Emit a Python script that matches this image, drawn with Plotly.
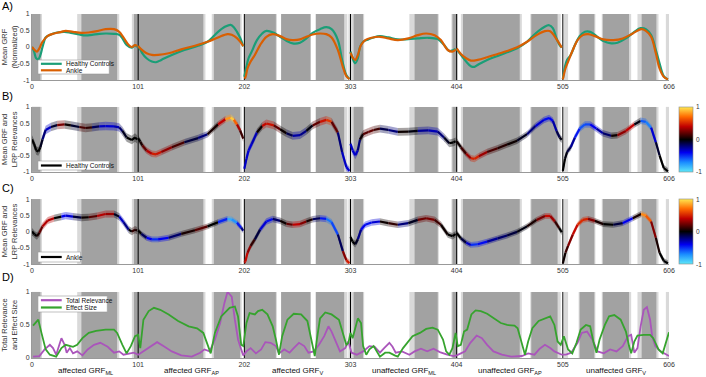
import plotly.graph_objects as go
from plotly.colors import sample_colorscale

# ---------------- data ----------------
tick_vals = [0, 101, 202, 303, 404, 505, 606]
segment_lines = [101, 202, 303, 404, 505]
segment_centers = [50.5, 151.5, 252.5, 353.5, 454.5, 555.5]
segment_names = ["affected GRF<sub>ML</sub>", "affected GRF<sub>AP</sub>", "affected GRF<sub>V</sub>",
                 "unaffected GRF<sub>ML</sub>", "unaffected GRF<sub>AP</sub>", "unaffected GRF<sub>V</sub>"]

# significance shading (light = wider interval, dark = inner interval)
light_regions = [(0, 9.5), (43, 83), (95, 165), (171, 199.5), (202, 233), (237, 265), (270, 300),
                 (301, 316), (359, 387), (399, 405), (408, 466), (474, 503), (506, 510), (520, 536),
                 (542, 570), (576, 596), (603, 606)]
dark_regions = [(0, 8), (47, 81), (97, 163), (173, 198), (202, 232), (237, 265), (270, 297),
                (306, 315), (364, 386), (400, 404), (410, 464), (475, 500), (521, 535), (543, 568),
                (580, 594)]

# Healthy controls mean GRF, per segment
hc_x = [
    [0, 2, 4, 6, 8, 10, 13, 18, 24, 31, 37, 45, 51, 57, 64, 70, 78, 83, 86, 90, 95, 98, 100],
    [101, 103, 105, 109, 114, 118, 123, 133, 145, 158, 167, 177, 184, 189, 192, 195, 198, 201],
    [202, 204, 206, 209, 214, 219, 223, 230, 236, 242, 248, 255, 261, 267, 274, 280, 285, 291, 295, 299, 302],
    [303, 305, 307.5, 310, 312, 315, 320, 325, 331, 339, 348, 358, 367, 377, 386, 392, 397, 401, 403],
    [404, 408, 413, 417.5, 421, 425, 433, 443, 452, 461.5, 471, 479, 487, 492, 495.5, 499, 502, 504],
    [505, 507, 509, 512.5, 516.5, 521, 526, 531, 537, 543, 551, 557, 565, 573, 579, 584, 589, 593.5, 597, 601, 605],
]
hc_y = [
    [0, -0.14, -0.34, -0.37, -0.24, 0, 0.29, 0.38, 0.44, 0.46, 0.43, 0.38, 0.35, 0.37, 0.4, 0.41, 0.4, 0.37, 0.26, 0.06, -0.02, 0.06, 0.0],
    [0.03, -0.07, -0.19, -0.34, -0.44, -0.46, -0.39, -0.24, -0.09, 0.04, 0.16, 0.46, 0.62, 0.67, 0.6, 0.46, 0.28, 0.02],
    [-0.9, -0.6, -0.34, -0.14, 0.21, 0.41, 0.49, 0.43, 0.31, 0.19, 0.11, 0.13, 0.26, 0.43, 0.54, 0.6, 0.54, 0.21, -0.39, -0.85, -0.97],
    [-0.14, -0.34, -0.49, -0.34, 0, 0.16, 0.23, 0.29, 0.33, 0.29, 0.23, 0.24, 0.26, 0.28, 0.24, 0.06, -0.12, -0.09, -0.06],
    [-0.06, -0.24, -0.44, -0.58, -0.6, -0.52, -0.39, -0.27, -0.16, -0.04, 0.16, 0.41, 0.6, 0.66, 0.57, 0.26, 0.06, -0.01],
    [-0.97, -0.6, -0.39, -0.24, 0.06, 0.33, 0.46, 0.46, 0.33, 0.19, 0.11, 0.13, 0.26, 0.46, 0.57, 0.54, 0.36, -0.09, -0.49, -0.88, -0.98],
]
hc_rel = [
    [0, 0, 0, 0, 0, -0.1, -0.3, -0.35, 0.2, 0.3, -0.25, 0.1, 0.2, 0.0, -0.3, -0.35, -0.35, -0.25, -0.1, 0, 0, 0, 0],
    [0, 0, 0.1, 0.3, 0.45, 0.5, 0.4, 0.2, 0.1, -0.3, -0.1, 0.2, 0.6, 1.0, 0.85, 0.5, 0.2, 0.05],
    [-0.3, -0.35, -0.35, -0.35, -0.25, 0.3, 0.55, 0.35, 0.05, 0, -0.25, -0.3, -0.15, 0.1, 0.3, 0.6, 0.5, -0.1, -0.3, -0.35, -0.35],
    [-0.3, -0.35, -0.35, -0.3, -0.1, 0.15, 0.2, 0.2, 0.05, -0.3, -0.1, 0.15, -0.2, -0.3, -0.3, -0.1, 0, 0, 0],
    [0, 0.05, 0.2, 0.45, 0.55, 0.45, 0.2, 0.1, 0.05, 0, -0.1, -0.3, -0.4, -0.45, -0.35, -0.2, -0.05, 0],
    [0, 0, -0.05, -0.15, -0.35, -0.55, -0.6, -0.5, -0.3, -0.25, -0.1, 0.15, 0.45, 0.35, -0.4, -0.8, -0.55, -0.15, 0, 0, 0],
]
hc_sd = [0.13, 0.1, 0.12, 0.12, 0.1, 0.1]

# Ankle group mean GRF, per segment
ak_x = [
    [0, 2.5, 4.7, 7, 10, 15, 21, 28, 32, 39, 47, 54, 62, 70, 78, 83, 87, 92, 95, 98, 100],
    [101, 104, 109, 114, 120, 130, 142, 155, 167, 177, 186, 190, 195, 199, 201],
    [202, 203, 205, 208, 212, 217, 223, 229, 236, 242, 248, 255, 261, 267, 274, 280, 285, 291, 295.7, 299, 302],
    [303, 305, 307.5, 310, 313, 317, 323, 331, 339, 348, 358, 367, 375, 383, 389, 395.5, 400, 403],
    [404, 408, 413, 417.5, 424, 433, 443, 452, 461.5, 471, 480, 488, 493, 497.5, 501.5, 504],
    [505, 507.5, 510, 514.5, 519, 524, 529, 535.5, 543.5, 553, 562, 571.5, 579.5, 584, 589, 593.5, 597, 601, 605],
]
ak_y = [
    [0, -0.09, -0.14, -0.04, 0.16, 0.34, 0.41, 0.46, 0.49, 0.46, 0.43, 0.44, 0.48, 0.54, 0.54, 0.46, 0.29, 0.06, 0, 0.06, 0.03],
    [0.03, -0.07, -0.19, -0.24, -0.24, -0.19, -0.07, 0.04, 0.16, 0.29, 0.39, 0.37, 0.27, 0.12, 0.03],
    [-0.95, -0.92, -0.65, -0.44, -0.24, 0.06, 0.31, 0.39, 0.33, 0.24, 0.21, 0.23, 0.31, 0.38, 0.41, 0.39, 0.29, -0.09, -0.6, -0.88, -0.97],
    [-0.17, -0.31, -0.39, -0.24, 0.06, 0.21, 0.28, 0.31, 0.26, 0.21, 0.26, 0.36, 0.41, 0.36, 0.21, -0.09, -0.14, -0.08],
    [-0.04, -0.21, -0.34, -0.41, -0.39, -0.31, -0.21, -0.12, -0.01, 0.16, 0.36, 0.48, 0.48, 0.31, 0.11, -0.02],
    [-0.98, -0.65, -0.44, -0.09, 0.21, 0.36, 0.39, 0.33, 0.23, 0.21, 0.26, 0.41, 0.54, 0.49, 0.31, -0.19, -0.65, -0.9, -0.98],
]
ak_rel = [
    [0, 0, 0, 0.1, 0.3, 0.45, 0.3, -0.3, -0.5, -0.2, 0, 0.05, 0.3, 0.45, 0.2, -0.3, -0.35, -0.1, 0.1, 0.1, 0],
    [0, 0, -0.3, -0.5, -0.5, -0.3, -0.05, 0.15, 0.2, -0.2, -0.75, -0.85, -0.6, -0.3, -0.1],
    [0.4, 0.45, 0.4, 0.2, 0, -0.2, -0.5, -0.35, 0, 0.05, 0.35, 0.45, 0.1, 0, -0.3, -0.6, -0.7, -0.4, 0.1, 0.45, 0.5],
    [0, 0, 0, -0.1, -0.35, -0.45, -0.4, -0.3, 0.35, -0.15, -0.25, 0.15, 0.3, 0.2, 0.05, 0, 0, 0],
    [0, 0, -0.2, -0.45, -0.55, -0.3, -0.2, -0.15, -0.05, 0, 0.1, 0.4, 0.45, 0.2, 0, 0],
    [0, 0.05, 0.2, 0.35, 0.5, 0.55, 0.45, 0.1, 0, 0, -0.2, -0.6, 0.7, 0.85, 0.45, 0.1, 0, 0, 0],
]
ak_sd = [0.11, 0.09, 0.1, 0.1, 0.09, 0.09]

# Panel D: total relevance and effect size
rel_x = [1, 7, 12, 17, 20, 23, 26, 28, 31, 33, 36, 39, 43, 48, 53, 59, 65, 72, 78, 83, 87, 92, 97, 101,
         105, 111, 119, 125, 133, 142, 152, 160, 164, 169, 174, 179, 183, 186, 190, 193, 196, 199, 201,
         204, 208, 213, 218, 222, 227, 232, 235, 240, 245, 249, 254, 259, 263, 268, 273, 278, 282, 285, 289, 293, 298, 301,
         304, 309, 315, 321, 326, 331, 335, 340, 343, 346, 352, 359, 364, 370, 376, 382, 388, 395, 401, 404,
         408, 412, 417, 423, 428, 433, 439, 447, 456, 466, 472, 478, 483, 488, 493, 497, 504,
         508, 513, 519, 523, 528, 533, 538, 544, 550, 556, 562, 567, 570, 573, 576, 579, 582, 585, 588, 590, 593, 598, 603, 606]
rel_y = [0.02, 0.03, 0.13, 0.2, 0.15, 0.05, 0.2, 0.3, 0.2, 0.08, 0.15, 0.07, 0.1, 0.04, 0.13, 0.2, 0.23, 0.17, 0.08, 0.1, 0.05, 0.07, 0.08, 0.05,
         0.09, 0.15, 0.24, 0.18, 0.1, 0.04, 0.02, 0.08, 0.13, 0.1, 0.28, 0.53, 0.83, 1.0, 0.93, 0.58, 0.28, 0.13, 0.04,
         0.1, 0.15, 0.07, 0.13, 0.24, 0.23, 0.18, 0.07, 0.13, 0.08, 0.15, 0.23, 0.18, 0.08, 0.1, 0.2, 0.33, 0.48, 0.4, 0.25, 0.1, 0.15, 0.25,
         0.08, 0.05, 0.1, 0.18, 0.17, 0.08, 0.15, 0.23, 0.17, 0.08, 0.1, 0.05, 0.1, 0.14, 0.1, 0.14, 0.09, 0.05, 0.03, 0.04,
         0.07, 0.1, 0.23, 0.34, 0.3, 0.2, 0.1, 0.05, 0.02, 0.03, 0.07, 0.05, 0.14, 0.2, 0.15, 0.1, 0.05,
         0.05, 0.08, 0.23, 0.38, 0.4, 0.28, 0.1, 0.07, 0.13, 0.1, 0.18, 0.33, 0.35, 0.08, 0.15, 0.48, 0.73, 0.77, 0.58, 0.33, 0.18, 0.1, 0.05, 0.03]

eff_x = [1, 6, 9, 13, 17, 23, 28, 32, 39, 43, 48, 54, 61, 70, 78, 81, 86, 90, 94, 98, 101,
         103, 106, 111, 116, 122, 130, 139, 149, 157, 163, 168, 170, 174, 180, 188, 193, 196, 199, 201,
         204, 207, 212, 215, 219, 224, 229, 232, 235, 238, 243, 249, 256, 262, 267, 269, 271, 274, 279, 285, 292, 296, 299,
         301, 303, 305, 307, 310, 313, 315, 318, 321, 325, 328, 331, 336, 340, 345, 348, 353, 358, 362, 369, 375, 381, 386, 391, 394, 397, 400, 403,
         405, 408, 411, 414, 418, 422, 427, 433, 440, 446, 452, 459, 462, 465, 469, 472, 476, 482, 488, 493, 497, 500, 503,
         506, 510, 514, 518, 522, 527, 531, 534, 537, 540, 545, 549, 554, 560, 565, 568, 570, 573, 576, 582, 588, 591, 596, 600, 603, 606]
eff_y = [0.49, 0.58, 0.38, 0.13, 0.05, 0.02, 0.15, 0.2, 0.17, 0.2, 0.3, 0.38, 0.41, 0.43, 0.43, 0.38, 0.2, 0.07, 0.18, 0.33, 0.35,
         0.15, 0.58, 0.71, 0.76, 0.73, 0.66, 0.56, 0.48, 0.45, 0.38, 0.15, 0.07, 0.38, 0.63, 0.76, 0.78, 0.63, 0.2, 0.18,
         0.53, 0.68, 0.66, 0.71, 0.73, 0.66, 0.48, 0.28, 0.05, 0.33, 0.58, 0.67, 0.66, 0.56, 0.18, 0.03, 0.28, 0.6, 0.69, 0.66, 0.58, 0.38, 0.2,
         0.23, 0.38, 0.3, 0.43, 0.6, 0.53, 0.18, 0.05, 0.13, 0.18, 0.1, 0.02, 0.08, 0.08, 0.04, 0.02, 0.15, 0.25, 0.33, 0.38, 0.44, 0.46, 0.43, 0.28, 0.1, 0.05, 0.15, 0.38,
         0.18, 0.2, 0.4, 0.43, 0.66, 0.72, 0.71, 0.67, 0.6, 0.53, 0.5, 0.49, 0.45, 0.28, 0.05, 0.25, 0.45, 0.56, 0.6, 0.63, 0.5, 0.25, 0.2,
         0.33, 0.13, 0.07, 0.23, 0.43, 0.5, 0.48, 0.25, 0.08, 0.28, 0.5, 0.63, 0.65, 0.58, 0.4, 0.18, 0.07, 0.25, 0.34, 0.35, 0.35, 0.3, 0.13, 0.07, 0.23, 0.39]

# colormap of the relevance (cold - black - hot)
rel_colorscale = [[0.0, "rgb(94,232,248)"], [0.15, "rgb(26,140,255)"], [0.3, "rgb(0,0,240)"],
                  [0.5, "rgb(0,0,0)"], [0.7, "rgb(192,0,0)"], [0.85, "rgb(255,106,0)"],
                  [1.0, "rgb(255,232,80)"]]

teal = "#1b9e77"
orange = "#d95f02"
purple = "#aa55bb"
green = "#36a32e"
FONT = "Liberation Sans, Arial, sans-serif"

# y domains of the 4 panels (paper coordinates)
domains = [(0.808, 1.0), (0.541, 0.730), (0.273, 0.462), (0.0, 0.192)]
PLOT_W, PLOT_H, LEFT, BOTTOM_PX = 643, 344, 32, 358


def px_x(p):
    return (p - LEFT) / PLOT_W


def px_y(p):
    return (BOTTOM_PX - p) / PLOT_H


def joined(lists):
    out = []
    for i, seg in enumerate(lists):
        if i:
            out.append(None)
        out.extend(seg)
    return out


def flat(lists):
    return [v for seg in lists for v in seg]


def rel_color(r, alpha=1.0):
    c = sample_colorscale(rel_colorscale, [(max(-1, min(1, r)) + 1) / 2])[0]
    return c.replace("rgb(", "rgba(").replace(")", ",%.2f)" % alpha)


fig = go.Figure()

# ---- panel A ----
fig.add_trace(go.Scatter(x=joined(hc_x), y=joined(hc_y), mode="lines", name="Healthy Controls",
                         line=dict(color=teal, width=2.2, shape="spline"), xaxis="x", yaxis="y"))
fig.add_trace(go.Scatter(x=joined(ak_x), y=joined(ak_y), mode="lines", name="Ankle",
                         line=dict(color=orange, width=2.2, shape="spline"), xaxis="x", yaxis="y"))


# ---- panels B and C: mean curve +- sd, coloured by the LRP relevance ----
def relevance_panel(xs, ys, rels, sds, ax, cb_y):
    for sx, sy, sr, sd in zip(xs, ys, rels, sds):
        for i in range(len(sx) - 1):
            r = (sr[i] + sr[i + 1]) / 2
            fig.add_trace(go.Scatter(
                x=[sx[i], sx[i + 1], sx[i + 1], sx[i], sx[i]],
                y=[sy[i] + sd, sy[i + 1] + sd, sy[i + 1] - sd, sy[i] - sd, sy[i] + sd],
                mode="lines", fill="toself", fillcolor=rel_color(r, 0.36), line=dict(width=0),
                hoverinfo="skip", xaxis="x" + ax, yaxis="y" + ax))
    for sx, sy, sr in zip(xs, ys, rels):
        for i in range(len(sx) - 1):
            r = (sr[i] + sr[i + 1]) / 2
            fig.add_trace(go.Scatter(x=[sx[i], sx[i + 1]], y=[sy[i], sy[i + 1]], mode="lines",
                                     line=dict(color=rel_color(r), width=2.2), hoverinfo="skip",
                                     xaxis="x" + ax, yaxis="y" + ax))
    # invisible carrier of the colour bar
    fig.add_trace(go.Scatter(x=flat(xs), y=flat(ys), mode="markers", hoverinfo="skip",
                             marker=dict(size=1, opacity=0, color=flat(rels), colorscale=rel_colorscale,
                                         cmin=-1, cmax=1, showscale=True,
                                         colorbar=dict(x=px_x(685), xanchor="left", xpad=0, ypad=0,
                                                       y=cb_y, yanchor="middle", len=0.189,
                                                       lenmode="fraction", thickness=14,
                                                       showticklabels=False, ticks="",
                                                       outlinecolor="#888", outlinewidth=0.6)),
                             xaxis="x" + ax, yaxis="y" + ax))
    for txt, yy in [("1", domains[int(ax) - 1][1]), ("0", cb_y), ("-1", domains[int(ax) - 1][0])]:
        fig.add_annotation(text=txt, xref="paper", yref="paper", x=px_x(700), y=yy, showarrow=False,
                           xanchor="left", yanchor="middle",
                           font=dict(size=6.5, family=FONT, color="#333"))


relevance_panel(hc_x, hc_y, hc_rel, hc_sd, "2", sum(domains[1]) / 2)
relevance_panel(ak_x, ak_y, ak_rel, ak_sd, "3", sum(domains[2]) / 2)

# ---- panel D ----
fig.add_trace(go.Scatter(x=rel_x, y=rel_y, mode="lines", name="Total Relevance",
                         line=dict(color=purple, width=1.8), xaxis="x4", yaxis="y4"))
fig.add_trace(go.Scatter(x=eff_x, y=eff_y, mode="lines", name="Effect Size",
                         line=dict(color=green, width=1.8), xaxis="x4", yaxis="y4"))

# ---- shading and segment lines ----
for n in ["", "2", "3", "4"]:
    for x0, x1 in light_regions:
        fig.add_shape(type="rect", xref="x" + n, yref="y" + n + " domain", x0=x0, x1=x1, y0=0, y1=1,
                      fillcolor="#d9d9d9", line_width=0, layer="below")
    for x0, x1 in dark_regions:
        fig.add_shape(type="rect", xref="x" + n, yref="y" + n + " domain", x0=x0, x1=x1, y0=0, y1=1,
                      fillcolor="#a2a2a2", line_width=0, layer="below")
    for xv in segment_lines:
        fig.add_shape(type="line", xref="x" + n, yref="y" + n + " domain", x0=xv, x1=xv, y0=0, y1=1,
                      line=dict(color="black", width=1), layer="below")


# ---- legends (boxes drawn in paper space, like the MATLAB legends) ----
def legend_box(x0, x1, y0, y1, entries):
    fig.add_shape(type="rect", xref="paper", yref="paper", x0=px_x(x0), x1=px_x(x1),
                  y0=px_y(y1), y1=px_y(y0), fillcolor="white", line=dict(color="#999", width=0.6),
                  layer="above")
    for label, color, yy in entries:
        fig.add_shape(type="line", xref="paper", yref="paper", x0=px_x(x0 + 3), x1=px_x(x0 + 24),
                      y0=px_y(yy), y1=px_y(yy), line=dict(color=color, width=2.2), layer="above")
        fig.add_annotation(text=label, xref="paper", yref="paper", x=px_x(x0 + 26), y=px_y(yy),
                           showarrow=False, xanchor="left", yanchor="middle",
                           font=dict(size=6.5, family=FONT, color="#111"))


legend_box(38, 110, 60, 74, [("Healthy Controls", teal, 63.8), ("Ankle", orange, 70.3)])
legend_box(38, 110, 161, 170, [("Healthy Controls", "black", 165.5)])
legend_box(38, 81, 252, 262, [("Ankle", "black", 257)])
legend_box(38, 108, 296, 312, [("Total Relevance", purple, 300.2), ("Effect Size", green, 307.5)])

# ---- axes ----
axis_font = dict(size=7, family=FONT, color="#333")
titles = ["Mean GRF<br>(Normalized)", "Mean GRF and<br>LRP Relevances", "Mean GRF and<br>LRP Relevances",
          "Total Relevance<br>and Effect Size"]
layout_axes = {}
for i, n in enumerate(["", "2", "3", "4"]):
    layout_axes["xaxis" + n] = dict(domain=[0, 1], anchor="y" + n, range=[0, 606], tickvals=tick_vals,
                                    tickfont=axis_font, showline=True, linecolor="#999", linewidth=1,
                                    ticks="", showgrid=False, zeroline=False, automargin=False)
    if i < 3:
        yv = dict(range=[-1, 1], tickvals=[-1, -0.5, 0, 0.5, 1], ticktext=["-1", "-0.5", "0", "0.5", "1"])
    else:
        yv = dict(range=[0, 1], tickvals=[0, 0.5, 1], ticktext=["0", "0.5", "1"])
    layout_axes["yaxis" + n] = dict(domain=list(domains[i]), anchor="x" + n, tickfont=axis_font,
                                    showline=True, linecolor="#999", linewidth=1, ticks="",
                                    showgrid=False, zeroline=False, automargin=False,
                                    title=dict(text=titles[i], font=dict(size=7.5, family=FONT, color="#333"),
                                               standoff=2), **yv)

fig.update_layout(
    width=706, height=377,
    margin=dict(l=32, r=31, t=14, b=19),
    paper_bgcolor="white", plot_bgcolor="white",
    font=dict(family=FONT),
    showlegend=False,
    **layout_axes,
)

# panel letters
for letter, yp in zip(["A)", "B)", "C)", "D)"], [6, 96, 188, 277]):
    fig.add_annotation(text=letter, xref="paper", yref="paper", x=px_x(0), y=px_y(yp), showarrow=False,
                       xanchor="left", yanchor="middle", font=dict(size=11, family=FONT, color="black"))

# segment names below panel D
for xc, label in zip(segment_centers, segment_names):
    fig.add_annotation(text=label, xref="x4", yref="paper", x=xc, y=px_y(364), showarrow=False,
                       yanchor="top", font=dict(size=8, family=FONT, color="#111"))

# the figure is exactly the window size, so drop the default page margin
fig.write_html("out.html", config={"displayModeBar": False},
               post_script="document.body.style.margin='0px';")
